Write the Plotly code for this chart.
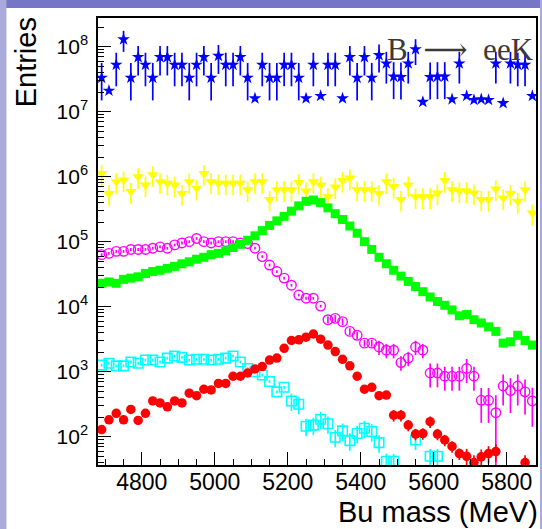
import plotly.graph_objects as go

# Bin centres of the B candidate mass histogram (20 MeV bins, 4680-5880 MeV)
mass_bins = [4690 + 20 * i for i in range(60)]

# Sample yields per bin (None = empty bin)
yield_blue = [3.31e7, 2.1e7, 5.25e7, 1.29e8, 3.31e7, 6.9e7, 5.25e7, 3.31e7, 6.9e7, 6.9e7,
              5.25e7, 5.25e7, 3.31e7, 5.25e7, 6.9e7, 3.31e7, 7.2e7, 5.25e7, 5.25e7, 6.9e7,
              3.31e7, 1.6e7, 5.25e7, 3.31e7, 3.31e7, 5.25e7, 5.25e7, 3.31e7, 1.6e7, 5.25e7,
              1.74e7, 5.25e7, 5.25e7, 1.6e7, 6.9e7, 3.31e7, 6.9e7, 3.31e7, 7.4e7, 5.5e7,
              3.46e7, 3.4e7, 5.5e7, 9.1e7, 1.41e7, 3.4e7, 3.46e7, 3.46e7, 1.55e7, 5.5e7,
              1.74e7, 1.51e7, 1.55e7, 1.51e7, 5.5e7, 1.35e7, 5.5e7, 5.25e7, 5.25e7, 1.74e7]
err_blue = [2.3e7, 0, 2.8e7, 4.6e7, 2.3e7, 3.3e7, 2.8e7, 2.3e7, 3.3e7, 3.3e7,
            2.8e7, 2.8e7, 2.3e7, 2.8e7, 3.3e7, 2.3e7, 3.4e7, 2.8e7, 2.8e7, 3.3e7,
            2.3e7, 0, 2.8e7, 2.3e7, 2.3e7, 2.8e7, 2.8e7, 2.3e7, 0, 2.8e7,
            0, 2.8e7, 2.8e7, 0, 3.3e7, 2.3e7, 3.3e7, 2.3e7, 3.4e7, 2.8e7,
            2.3e7, 2.3e7, 2.8e7, 3.9e7, 0, 2.3e7, 2.3e7, 2.3e7, 0, 2.8e7,
            0, 0, 0, 0, 2.8e7, 0, 2.8e7, 2.8e7, 2.8e7, 0]

yield_yellow = [1.12e6, 5.5e5, 8.32e5, 8.91e5, 5.89e5, 1.0e6, 7.41e5, 1.07e6, 8.32e5, 7.94e5,
                7.41e5, 5.5e5, 8.32e5, 6.61e5, 1.12e6, 8.32e5, 7.94e5, 7.94e5, 7.94e5, 7.94e5,
                6.31e5, 8.32e5, 8.32e5, 4.47e5, 6.31e5, 6.31e5, 6.31e5, 8.13e5, 6.03e5, 8.32e5,
                7.41e5, 4.9e5, 6.92e5, 8.71e5, 9.55e5, 6.31e5, 6.31e5, 6.31e5, 5.5e5, 8.32e5,
                7.08e5, 4.47e5, 7.41e5, 4.9e5, 4.9e5, 4.9e5, 5.62e5, 8.71e5, 6.31e5, 6.03e5,
                6.03e5, 5.62e5, 4.47e5, 4.47e5, 6.46e5, 4.68e5, 5.5e5, 4.17e5, 6.31e5, 2.75e5]
relerr_yellow = [0.35] * 60

yield_green = [22900, 24000, 22900, 26300, 27500, 28800, 32400, 34700, 36300, 38900,
               41700, 45700, 49000, 53700, 57500, 63100, 66100, 72400, 81300, 91200,
               105000, 123000, 148000, 178000, 209000, 245000, 295000, 355000, 417000, 437000,
               398000, 331000, 269000, 219000, 174000, 135000, 100000, 75900, 57500, 45700,
               36300, 29500, 24500, 20400, 17000, 14100, 12000, 10500, 8910, 7240,
               7590, 6310, 5620, 4900, 4170, 2750, 2880, 3630, 3020, 2570]

yield_magenta = [63100, 66100, 70800, 70800, 75900, 75900, 75900, 79400, 83200, 79400,
                 89100, 95500, 100000, 112000, 100000, 95500, 100000, 100000, 100000, 95500,
                 93300, 79400, 58900, 43700, 34700, 27500, 21400, 15100, 13500, 13500,
                 10200, 6310, 6610, 5890, 4170, 3630, 2750, 2750, 2400, 2140,
                 2140, 1380, 1620, 2400, 2140, 955, 955, 851, 851, 851,
                 1120, 851, 363, 363, 234, 603, 513, 603, 490, 355]
relerr_magenta = [0.05] * 31 + [0.12] * 7 + [0.25] * 7 + [0.4] * 7 + [0.55, 0.55, 0.85, 0.5, 0.55, 0.5, 0.55, 0.6]

yield_cyan = [1260, 1350, 1230, 1230, 1410, 1350, 1510, 1510, 1410, 1620,
              1740, 1660, 1510, 1550, 1550, 1510, 1550, 1620, 1740, 1410,
              1120, 1000, 891, 708, 490, 575, 355, 316, 145, 151,
              186, 158, 98, 123, 87, 112, 135, 120, 81, 42,
              42, None, None, 89, None, 50, 50, None, None, None,
              None, None, None, None, None, None, None, None, None, None]
relerr_cyan = [0.05] * 26 + [0.3] * 34

yield_red = [129, 182, 229, 182, 263, 178, 229, 355, 331, 288,
             355, 331, 468, 427, 537, 525, 661, 661, 851, 851,
             955, 1100, 1200, 1510, 1620, 2290, 3020, 3090, 3390, 3800,
             3160, 2570, 2040, 1550, 1230, 851, 537, 575, 427, 437,
             214, 214, 151, 110, 112, 170, 110, 89, 71, 55,
             50, 40, 49, 55, 59, None, None, None, 40, None]
relerr_red = [0.08] * 40 + [0.2] * 10 + [0.3] * 10


def upper(vals, rel):
    return [None if v is None else v * r for v, r in zip(vals, rel)]


def lower(vals, rel):
    return [None if v is None else v * min(r, 0.9) for v, r in zip(vals, rel)]


fig = go.Figure()

fig.add_trace(go.Scatter(
    x=mass_bins, y=yield_blue, mode="markers",
    marker=dict(symbol="star", size=9.5, color="#0000ff", line=dict(width=0)),
    error_y=dict(type="data", array=err_blue,
                 arrayminus=[min(e, 0.55 * v) for e, v in zip(err_blue, yield_blue)],
                 color="#0000ff", thickness=1.7, width=0),
))
fig.add_trace(go.Scatter(
    x=mass_bins, y=yield_yellow, mode="markers",
    marker=dict(symbol="triangle-down", size=10, color="#ffff00", line=dict(width=0)),
    error_y=dict(type="data", array=upper(yield_yellow, relerr_yellow),
                 arrayminus=lower(yield_yellow, relerr_yellow),
                 color="#ffff00", thickness=1.7, width=0),
))
fig.add_trace(go.Scatter(
    x=mass_bins, y=yield_magenta, mode="markers",
    marker=dict(symbol="circle-open", size=9.5, color="#ff00ff", line=dict(width=1.4)),
    error_y=dict(type="data", array=upper(yield_magenta, relerr_magenta),
                 arrayminus=lower(yield_magenta, relerr_magenta),
                 color="#ff00ff", thickness=1.7, width=0),
))
fig.add_trace(go.Scatter(
    x=mass_bins, y=yield_green, mode="markers",
    marker=dict(symbol="square", size=9, color="#00ff00", line=dict(width=0)),
))
fig.add_trace(go.Scatter(
    x=mass_bins, y=yield_cyan, mode="markers",
    marker=dict(symbol="square-open", size=9.5, color="#00ffff", line=dict(width=1.6)),
    error_y=dict(type="data", array=upper(yield_cyan, relerr_cyan),
                 arrayminus=lower(yield_cyan, relerr_cyan),
                 color="#00ffff", thickness=1.7, width=0),
))
fig.add_trace(go.Scatter(
    x=mass_bins, y=yield_red, mode="markers",
    marker=dict(symbol="circle", size=9.5, color="#ff0000", line=dict(width=0)),
    error_y=dict(type="data", array=upper(yield_red, relerr_red),
                 arrayminus=lower(yield_red, relerr_red),
                 color="#ff0000", thickness=1.7, width=0),
))

decades = [10 ** k for k in range(2, 9)]
minor_vals = [m * 10 ** k for k in range(1, 9) for m in range(2, 10)]

fig.update_layout(
    width=542, height=529, autosize=False,
    margin=dict(l=98, r=4, t=18, b=64),
    paper_bgcolor="#a9a9db",
    plot_bgcolor="white",
    showlegend=False,
    font=dict(family="Liberation Sans, Arial, sans-serif", color="black"),
    xaxis=dict(
        range=[4680, 5880], tickvals=[4800, 5000, 5200, 5400, 5600, 5800],
        ticks="inside", ticklen=13, tickwidth=1.3, tickcolor="black",
        minor=dict(dtick=50, tick0=4700, ticks="inside", ticklen=6, tickwidth=1.3,
                   tickcolor="black", showgrid=False),
        showline=True, mirror=True, linecolor="black", linewidth=1.5,
        showgrid=False, zeroline=False, tickfont=dict(size=23),
        ticklabelstandoff=-4,
    ),
    yaxis=dict(
        type="log", range=[1.565, 8.44],
        tickvals=decades, ticktext=["10<sup>%d</sup>" % k for k in range(2, 9)],
        ticks="inside", ticklen=13, tickwidth=1.3, tickcolor="black",
        minor=dict(tickvals=minor_vals, ticks="inside", ticklen=6, tickwidth=1.3,
                   tickcolor="black", showgrid=False),
        showline=True, mirror=True, linecolor="black", linewidth=1.5,
        showgrid=False, zeroline=False, tickfont=dict(size=21),
        ticklabelstandoff=4,
    ),
    shapes=[
        # white slide area behind the histogram
        dict(type="rect", xref="paper", yref="paper", layer="below",
             x0=(6 - 98) / 440, x1=(542 - 98) / 440, y0=(465 - 529) / 447, y1=(465 - 8) / 447,
             fillcolor="white", line=dict(width=0)),
        # slide header band
        dict(type="rect", xref="paper", yref="paper", layer="below",
             x0=(6 - 98) / 440, x1=(542 - 98) / 440, y0=(465 - 8) / 447, y1=(465 + 2) / 447,
             fillcolor="#7676c6", line=dict(width=0)),
    ],
    annotations=[
        dict(text="Entries", xref="paper", yref="paper", x=(26 - 98) / 440, y=(465 - 62) / 447,
             textangle=-90, showarrow=False, font=dict(size=29, color="black"),
             xanchor="center", yanchor="middle"),
        dict(text="Bu mass (MeV)", xref="paper", yref="paper", x=(542 - 98) / 440, y=(465 - 512) / 447,
             showarrow=False, font=dict(size=29, color="black"), xanchor="right", yanchor="middle"),
        dict(text="B\u2002\u27f6\u2002eeK", xref="paper", yref="paper", x=(462 - 98) / 440, y=(465 - 50) / 447,
             showarrow=False,
             font=dict(size=31, color="#3a3a3a", family="Liberation Serif, DejaVu Serif, serif"),
             xanchor="center", yanchor="middle"),
    ],
)

fig.write_html("out.html")
